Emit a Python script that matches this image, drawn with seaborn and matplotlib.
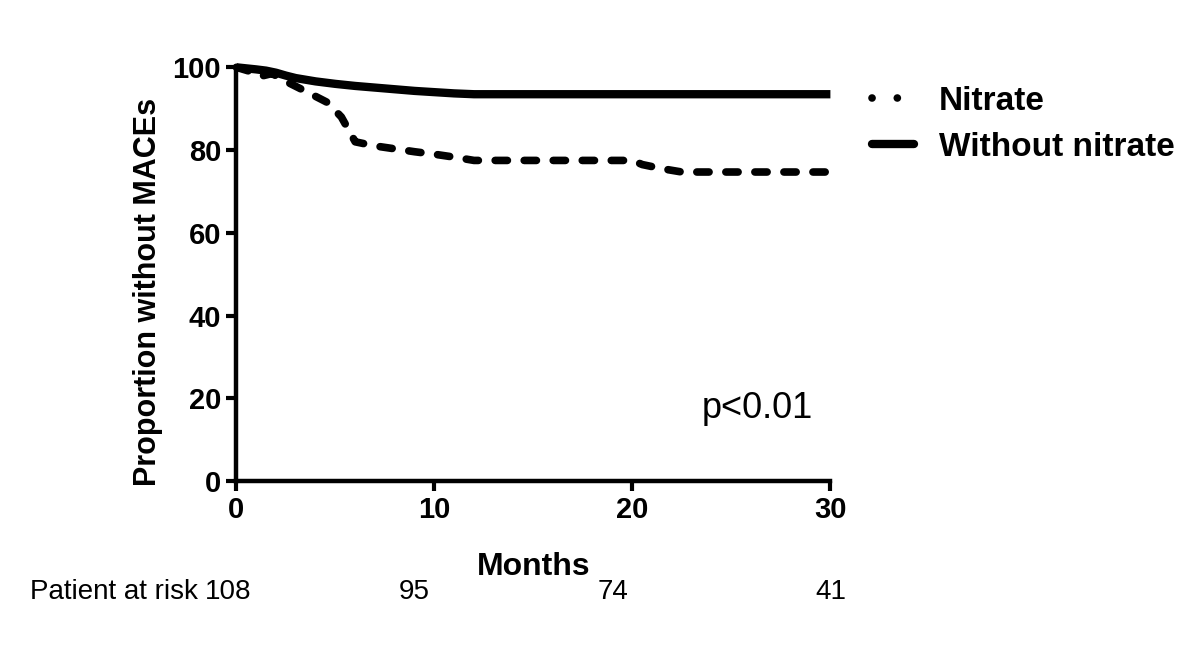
import matplotlib
matplotlib.use("Agg")
import matplotlib.pyplot as plt
import matplotlib.transforms as mtransforms
import seaborn as sns
import pandas as pd
from matplotlib.lines import Line2D

# ---- data ----
months_without = [0, 1, 1.5, 2, 2.5, 3, 4, 5, 6, 7, 8, 9, 10, 11, 12, 30]
surv_without = [100, 99.5, 99.2, 98.7, 98, 97.4, 96.6, 96, 95.5, 95.1, 94.7, 94.3, 94.0, 93.7, 93.5, 93.5]

months_nitrate = [0, 0.7, 1.2, 1.8, 2.5, 3.5, 4.6, 5.3, 6.0, 7, 8, 9, 10, 11, 12, 20, 20.5, 21.5, 22.5, 30]
surv_nitrate = [100, 99, 97.8, 98.5, 96.6, 94.2, 91.5, 88, 82, 81, 80.3, 79.6, 79, 78.3, 77.5, 77.5, 76.5, 75.5, 74.7, 74.7]

risk_months = [0, 10, 20, 30]
risk_counts = [108, 95, 74, 41]

x_ticks = [0, 10, 20, 30]
y_ticks = [0, 20, 40, 60, 80, 100]

sns.set_style("white")
plt.rcParams['font.family'] = ['Liberation Sans', 'DejaVu Sans']
plt.rcParams['text.color'] = 'black'
plt.rcParams['axes.labelcolor'] = 'black'
plt.rcParams['xtick.color'] = 'black'
plt.rcParams['ytick.color'] = 'black'

fig = plt.figure(figsize=(12, 6.6), dpi=100)
ax = fig.add_axes([0.197, 0.271, 0.495, 0.627])

df_w = pd.DataFrame({"Months": months_without, "Surv": surv_without})
df_n = pd.DataFrame({"Months": months_nitrate, "Surv": surv_nitrate})

sns.lineplot(data=df_w, x="Months", y="Surv", ax=ax, color="black", lw=6,
             solid_capstyle="butt", clip_on=False, zorder=3)
sns.lineplot(data=df_n, x="Months", y="Surv", ax=ax, color="black", lw=5.5,
             linestyle=(0, (1.6, 2.2)), dash_capstyle="round", clip_on=False, zorder=3)

ax.set_xlim(0, 30)
ax.set_ylim(0, 100)
ax.set_xticks(x_ticks)
ax.set_yticks(y_ticks)
for s in ["top", "right"]:
    ax.spines[s].set_visible(False)
for s in ["left", "bottom"]:
    ax.spines[s].set_linewidth(3.2)
    ax.spines[s].set_color("black")
ax.tick_params(direction="out", length=7, width=3, color="black", pad=4,
               labelsize=21, left=True, bottom=True, labelcolor="black")
for lab in ax.get_xticklabels() + ax.get_yticklabels():
    lab.set_fontweight("bold")

ax.set_xlabel("Months", fontsize=23, fontweight="bold", labelpad=20)
ax.set_ylabel("Proportion without MACEs", fontsize=22, fontweight="bold")
ax.yaxis.set_label_coords(-0.148, 0.457)
ax.yaxis.label.set_verticalalignment("center")

ax.text(0.877, 0.176, "p<0.01", transform=ax.transAxes, fontsize=26, ha="center", va="center")

# at-risk row
row_y = 1 - 592 / 660
fig.text(0.025, row_y, "Patient at risk", fontsize=20, ha="left", va="center")
offsets = [-0.4, -1.0, -1.0, 0.0]
row_tr = mtransforms.blended_transform_factory(ax.transData, fig.transFigure)
for m, c, o in zip(risk_months, risk_counts, offsets):
    ax.text(m + o, row_y, str(c), transform=row_tr, fontsize=20,
            ha="center", va="center", clip_on=False)

handles = [
    Line2D([0], [0], color="black", lw=5.5, linestyle=(0, (0.01, 3.3)), dash_capstyle="round"),
    Line2D([0], [0], color="black", lw=6),
]
fig.legend(handles, ["Nitrate", "Without nitrate"], loc="upper left",
           bbox_to_anchor=(0.702, 0.915), frameon=False, handlelength=1.25,
           handletextpad=0.75, labelspacing=0.45,
           prop={"weight": "bold", "size": 24})

fig.savefig("out.png", dpi=100)
